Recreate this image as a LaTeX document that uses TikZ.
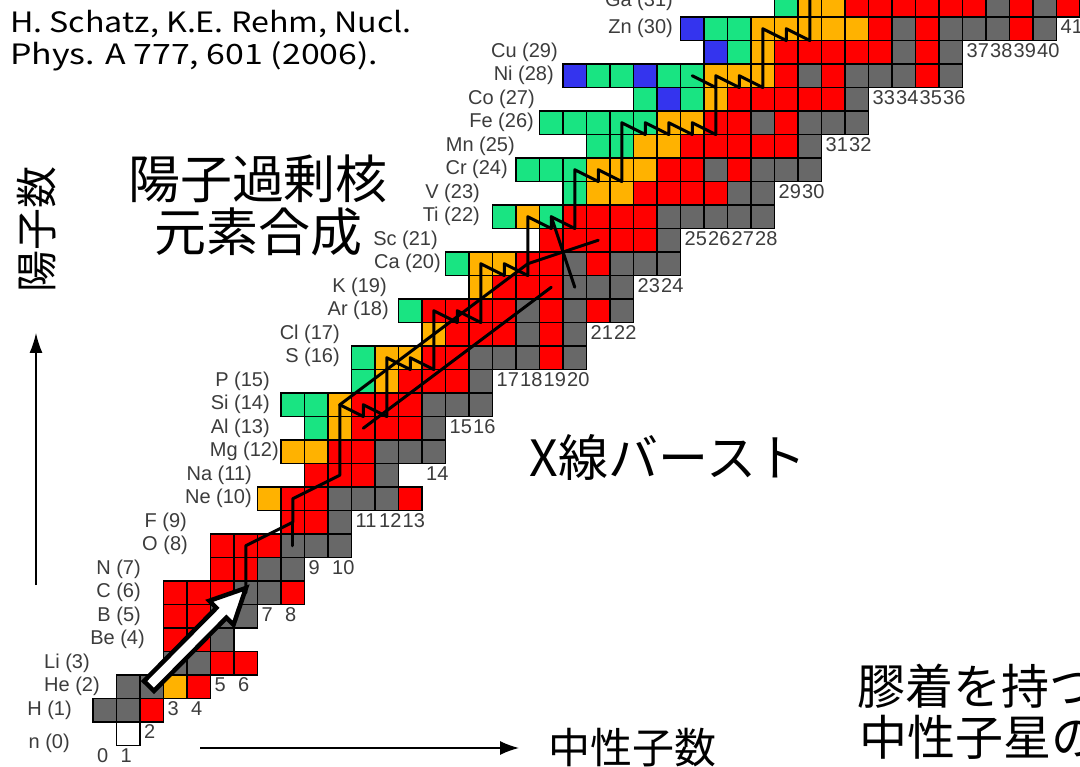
\documentclass[tikz,border=0pt]{standalone}
\usepackage{fontspec}
\usepackage{graphicx}
\usetikzlibrary{arrows.meta}
\setmainfont{Liberation Sans}
\newfontfamily\jp{Noto Sans CJK JP}
\definecolor{cr}{RGB}{255,0,0}
\definecolor{ck}{RGB}{104,104,104}
\definecolor{ce}{RGB}{25,228,130}
\definecolor{co}{RGB}{255,178,0}
\definecolor{cb}{RGB}{52,52,238}
\definecolor{cw}{RGB}{255,255,255}
\definecolor{labgray}{RGB}{60,60,60}
\tikzset{
  cellsty/.style={draw=black, line width=1.8pt},
  rp/.style={draw=black, line width=3pt, line join=round, line cap=round},
  lab/.style={font=\fontsize{20}{20}\selectfont, text=labgray, inner sep=0pt},
  num/.style={font=\fontsize{20}{20}\selectfont, text=labgray, inner sep=0pt, anchor=west},
  big/.style={font=\jp\fontsize{52}{60}\selectfont, inner sep=0pt},
  cite/.style={font=\jp\fontsize{28}{30}\selectfont, anchor=base west, inner sep=0pt},
}
\newcommand\nucrow[3]{%
  \foreach \c [count=\i from 0] in {#3}{%
    \path[cellsty, fill=c\c] ({93+23.5*(#2+\i)},{722-23.5*#1}) rectangle ++(23.5,23.5);
  }}
\begin{document}
\begin{tikzpicture}[x=1pt,y=-1pt]
\useasboundingbox (0,0) rectangle (1080,767);
\clip (0,0) rectangle (1080,767);
\fill[white] (0,0) rectangle (1080,767);
% cell centres (c) and lower-edge points (v)
\foreach \z in {0,...,31}{\foreach \n in {0,...,41}{%
  \coordinate (c\z-\n) at ({104.75+23.5*\n},{733.75-23.5*\z});
  \coordinate (v\z-\n) at ({104.75+23.5*\n},{745.5-23.5*\z});}}
% chart rows: Z, first N, colours
\nucrow{0}{1}{w}
\nucrow{1}{0}{k,k,r}
\nucrow{2}{1}{k,k,o,r}
\nucrow{3}{3}{k,k,r,r}
\nucrow{4}{3}{r,r,k}
\nucrow{5}{3}{r,r,k,k}
\nucrow{6}{3}{r,r,r,k,k,r}
\nucrow{7}{5}{r,r,k,k}
\nucrow{8}{5}{r,r,r,k,k,k}
\nucrow{9}{8}{r,r,k}
\nucrow{10}{7}{o,r,r,k,k,k,r}
\nucrow{11}{9}{r,r,r,k}
\nucrow{12}{8}{o,o,r,r,k,k,k}
\nucrow{13}{9}{e,o,r,r,r,k}
\nucrow{14}{8}{e,e,o,r,r,r,k,k,k}
\nucrow{15}{11}{e,o,r,r,r,k}
\nucrow{16}{11}{e,o,o,r,r,k,k,k,r,k}
\nucrow{17}{14}{o,r,r,r,k,r,k}
\nucrow{18}{13}{e,r,r,r,r,k,r,k,r,k}
\nucrow{19}{16}{o,r,r,r,k,k,k}
\nucrow{20}{15}{e,o,o,r,r,k,r,k,k,k}
\nucrow{21}{19}{r,r,r,r,r,k}
\nucrow{22}{17}{e,o,e,r,r,r,r,k,k,k,k,k}
\nucrow{23}{20}{e,o,o,r,r,r,r,k,k}
\nucrow{24}{18}{e,e,e,o,o,o,r,r,k,r,k,k,k}
\nucrow{25}{21}{e,e,o,o,r,r,r,r,r,k}
\nucrow{26}{19}{e,e,e,e,e,o,o,r,r,k,r,k,k,k}
\nucrow{27}{23}{e,b,e,o,r,r,r,r,r,k}
\nucrow{28}{20}{b,e,e,b,e,e,o,o,o,r,k,r,k,k,k,r,k}
\nucrow{29}{26}{b,e,o,r,r,r,r,r,k,r,k}
\nucrow{30}{25}{b,e,e,o,o,o,o,o,r,k,r,k,k,k,r,k}
\nucrow{31}{29}{e,o,o,r,r,r,r,r,r,k,r,k,r}
% element labels
\foreach \z/\x/\t in {1/72/H (1),2/100/He (2),3/90/Li (3),4/145/Be (4),5/141/B (5),6/141/C (6),
  7/141/N (7),8/188/O (8),9/187/F (9),10/252/Ne (10),11/252/Na (11),12/279/Mg (12),13/270/Al (13),
  14/270/Si (14),15/270/P (15),16/340/S (16),17/340/Cl (17),18/389/Ar (18),19/387/K (19),
  20/441/Ca (20),21/438/Sc (21),22/480/Ti (22),23/480/V (23),24/508/Cr (24),25/515/Mn (25),
  26/534/Fe (26),27/535/Co (27),28/554/Ni (28),29/558/Cu (29),30/673/Zn (30)}
  {\node[lab, anchor=east] (el\z) at (\x,{733.75-23.5*\z}) {\t};}
\node[lab, anchor=east] (el31) at (673,1) {Ga (31)};
\node[lab, anchor=east] (el0) at (70,743) {n (0)};
% neutron numbers
\foreach \n/\z in {0/-1,1/-1,2/0,3/1,4/1,5/2,6/2,7/5,8/5,9/7,10/7,11/9,12/9,13/9,14/11,15/13,16/13,
  17/15,18/15,19/15,20/15,21/17,22/17,23/19,24/19,25/21,26/21,27/21,28/21,29/23,30/23,31/25,32/25,
  33/27,34/27,35/27,36/27,37/29,38/29,39/29,40/29,41/30}
  {\node[num] (nn\n) at ({97+23.5*\n},{732-23.5*\z}) {\n};}
% reaction paths
\draw[rp] (c6-6) -- (c8-6) -- (c9-8) -- (c10-8) -- (c11-10) -- (c14-10);
\draw[rp] (c8-8) -- (c9-8);
\draw[rp] (c14-10) -- (v14-11) -- (c14-11) -- (v14-12) -- (c16-12) -- (v16-13) -- (c16-13) -- (v16-14)
  -- (c18-14) -- (v18-15) -- (c18-15) -- (v18-16) -- (c20-16) -- (v20-17) -- (c20-17) -- (v20-18)
  -- (c22-18) -- (v22-19) -- (c22-19) -- (v22-20) -- (c24-20) -- (v24-21) -- (c24-21) -- (v24-22)
  -- (c26-22) -- (v26-23) -- (c26-23) -- (v26-24) -- (c26-24) -- (v26-25) -- (c26-25) -- (v26-26)
  -- (v28-26);
\coordinate (top30) at (809.75,-20);
\draw[rp] (c28-25) -- (v28-26) -- (c28-26) -- (v28-27) -- (c28-27) -- (v28-28) -- (c30-28) -- (v30-29)
  -- (c30-29) -- (v30-30) -- (top30);
\draw[rp] (c14-10) -- (c17-14) -- (c20-18) -- (c21-21);
\draw[rp] (c13-11) -- (c16-15) -- (c19-19);
\draw[rp] (c22-19) -- (c19-20);
% big arrow
\draw[line width=4.5pt, line join=miter, fill=white] (154,690.9) -- (226.4,617.7) -- (233.5,624.8) -- (246,588)
  -- (209.3,600.8) -- (216.4,607.9) -- (144,681.1) -- cycle;
% axes
\coordinate (ya) at (36,585); \coordinate (yb) at (36,333);
\draw[line width=1.5pt, -{Latex[length=20pt,width=13pt]}] (ya) -- (yb);
\coordinate (xa) at (200,748); \coordinate (xb) at (519,748);
\draw[line width=1.5pt, -{Latex[length=19pt,width=14pt]}] (xa) -- (xb);
% texts
\node[cite] (cite1) at (10,33) {\scalebox{1.15}[1]{H. Schatz, K.E. Rehm, Nucl.}};
\node[cite] (cite2) at (10,65) {\scalebox{1.21}[1]{Phys. A 777, 601 (2006).}};
\node[big] (t1) at (258,179) {陽子過剰核};
\node[big] (t2) at (258,232) {元素合成};
\node[font=\jp\fontsize{42}{42}\selectfont, inner sep=0pt, rotate=90] (ax1) at (37,230) {陽子数};
\node[font=\jp\fontsize{42}{42}\selectfont, inner sep=0pt] (ax2) at (632,748) {中性子数};
\node[font=\jp\fontsize{50}{50}\selectfont, inner sep=0pt] (xb1) at (668,457) {X線バースト};
\node[font=\jp\fontsize{48}{48}\selectfont, inner sep=0pt, anchor=west] (ns1) at (857,686) {膠着を持つ};
\node[font=\jp\fontsize{48}{48}\selectfont, inner sep=0pt, anchor=west] (ns2) at (859,737) {中性子星の};
\end{tikzpicture}
\end{document}
